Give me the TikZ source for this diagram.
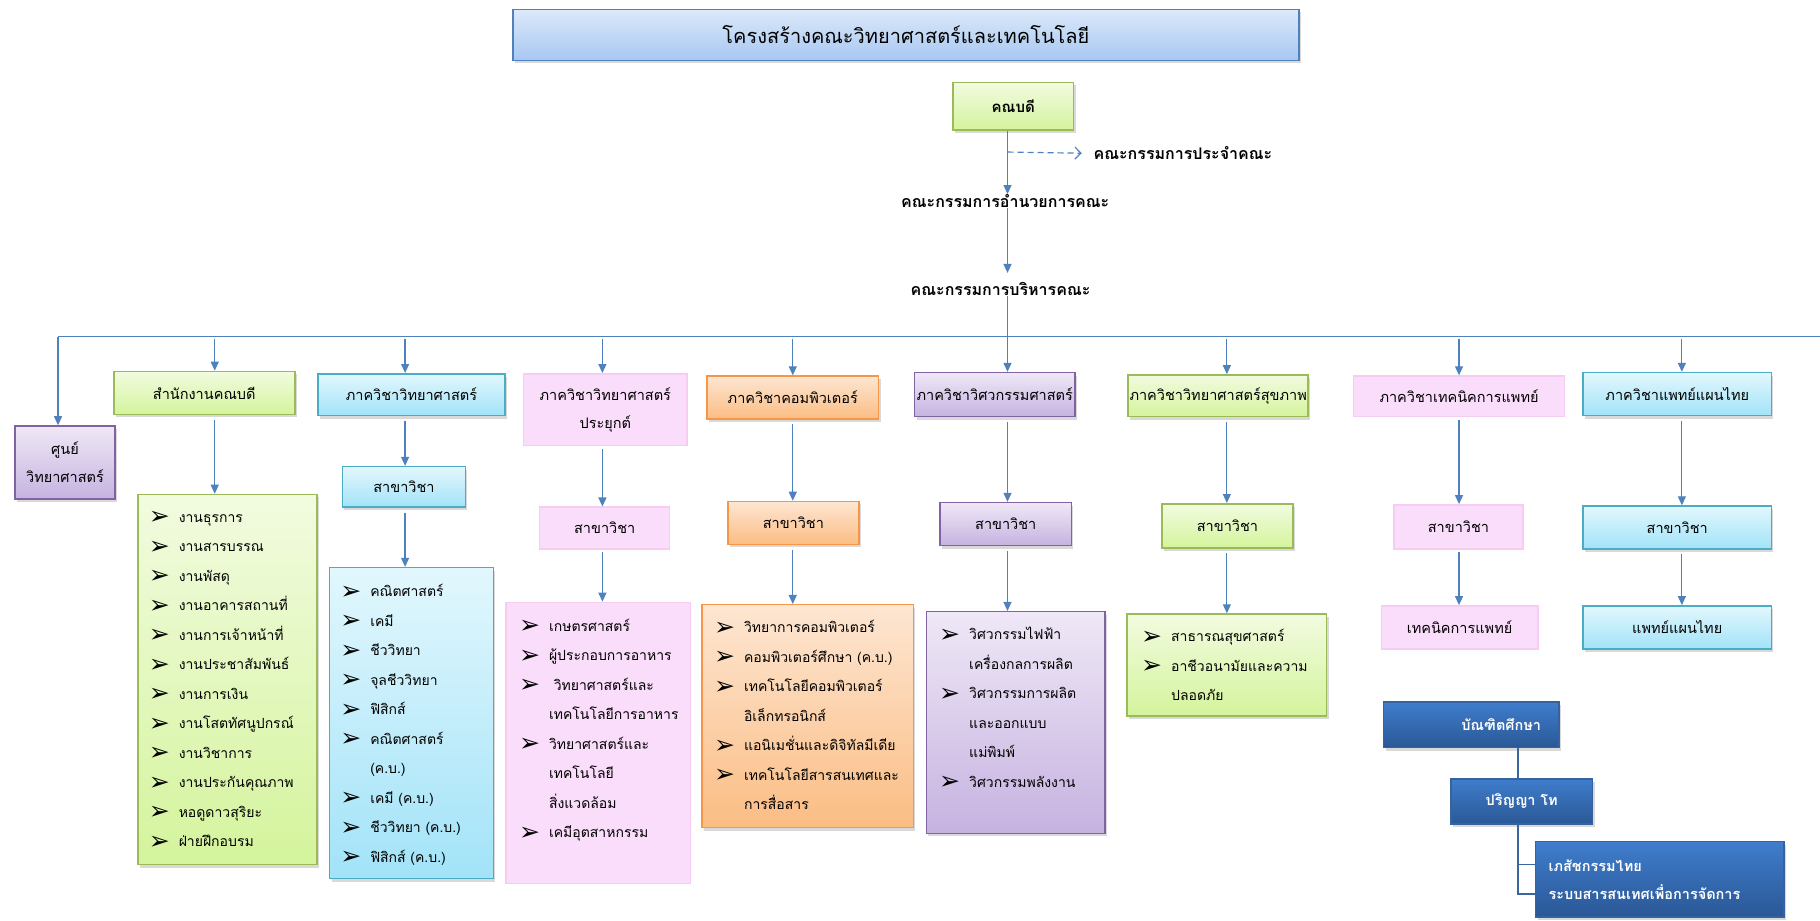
\documentclass[tikz,border=0pt]{standalone}
\usepackage{fontspec}
\setmainfont[Script=Thai]{Loma}
\newfontfamily\symfont{DejaVu Sans}
\usetikzlibrary{shadows,arrows.meta,calc}
\definecolor{arrB}{HTML}{4F81BD}
\definecolor{tTop}{HTML}{DCE9FA}\definecolor{tBot}{HTML}{A7C7F2}
\definecolor{gTop}{HTML}{F2FBE0}\definecolor{gBot}{HTML}{D4F49C}\definecolor{gBrd}{HTML}{9BBB59}
\definecolor{cTop}{HTML}{E2F7FD}\definecolor{cBot}{HTML}{A2E3F8}\definecolor{cBrd}{HTML}{4BACC6}
\definecolor{pFill}{HTML}{FADDFA}\definecolor{pBrd}{HTML}{F6CCF3}
\definecolor{oTop}{HTML}{FDE6D2}\definecolor{oBot}{HTML}{FBBD84}\definecolor{oBrd}{HTML}{F79646}
\definecolor{uTop}{HTML}{EFE8F7}\definecolor{uBot}{HTML}{C6B2E0}\definecolor{uBrd}{HTML}{8064A2}
\definecolor{dTop}{HTML}{3F7DCC}\definecolor{dBot}{HTML}{2A5896}\definecolor{dBrd}{HTML}{3463A0}
\definecolor{dLine}{HTML}{3A65A0}
\newcommand\mybox[7]{\node[#1, minimum width={(#5-#3)*1.1607pt}, minimum height={(#6-#4)*1.1607pt}] (#2) at ({(#3+#5)/2},{(#4+#6)/2}) {#7};}
\newcommand\bul{{\symfont\fontsize{25}{25}\selectfont\raisebox{-2.5pt}{\char"27A2}}}
\newcommand\lst[1]{{\fontsize{14}{29.5}\selectfont\begin{tabular}[t]{@{}p{30pt}@{}l@{}}#1\end{tabular}}}
\begin{document}
\begin{tikzpicture}[x={(1.1607pt,0)},y={(0,-1.1607pt)},
  shd/.style={drop shadow={shadow xshift=2pt,shadow yshift=-3pt,opacity=0.3}},
  bx/.style={rectangle,line width=1.5pt,inner sep=0pt,align=center,font=\fontsize{14.5}{28}\selectfont},
  titlebox/.style={bx,shd,draw=arrB,top color=tTop,bottom color=tBot,font=\fontsize{20}{24}\selectfont},
  gbox/.style={bx,shd,draw=gBrd,top color=gTop,bottom color=gBot},
  cbox/.style={bx,shd,draw=cBrd,top color=cTop,bottom color=cBot},
  pbox/.style={bx,draw=pBrd,fill=pFill},
  obox/.style={bx,shd,draw=oBrd,top color=oTop,bottom color=oBot},
  ubox/.style={bx,shd,draw=uBrd,top color=uTop,bottom color=uBot},
  dbox/.style={bx,shd,draw=dBrd,top color=dTop,bottom color=dBot,text=white,font=\bfseries\fontsize{14.5}{28}\selectfont},
  ln/.style={draw=arrB,line width=1.2pt},
  arr/.style={ln,-{Triangle[length=9pt,width=8pt]}},
  txt/.style={inner sep=0pt,font=\bfseries\fontsize{16}{20}\selectfont},
  lsttxt/.style={anchor=base west,inner sep=0pt}]
\useasboundingbox (0,0) rectangle (1568,793);
% top
\mybox{titlebox}{title}{442}{8}{1119}{52}{โครงสร้างคณะวิทยาศาสตร์และเทคโนโลยี}
\mybox{gbox,font=\bfseries\fontsize{15}{20}\selectfont}{dean}{821}{71}{925}{112}{คณบดี}
\node[txt,anchor=west] (standing) at (942,132) {คณะกรรมการประจำคณะ};
\node[txt] (steer) at (866,173) {คณะกรรมการอำนวยการคณะ};
\node[txt] (exec) at (862,249) {คณะกรรมการบริหารคณะ};
\coordinate (spine) at (868,0);
\coordinate (dash0) at (868,131);
\draw[arr] (dean.south -| spine) -- (steer.north -| spine);
\draw[ln,dash pattern=on 6pt off 4pt,-{Straight Barb[length=6pt,width=12pt]}] (dash0) -- ($(standing.west)+(-10,0)$);
\draw[arr] (steer.south -| spine) -- ($(exec.north -| spine)+(0,-8)$);
% level 1 boxes
\mybox{ubox}{center}{13}{367}{99}{430}{ศูนย์\\วิทยาศาสตร์}
\mybox{gbox}{office}{98}{320}{254}{357}{สำนักงานคณบดี}
\mybox{cbox}{sci}{274}{322}{435}{358}{ภาควิชาวิทยาศาสตร์}
\mybox{pbox}{app}{451}{322}{592}{384}{ภาควิชาวิทยาศาสตร์\\ประยุกต์}
\mybox{obox}{comp}{609}{324}{757}{361}{ภาควิชาคอมพิวเตอร์}
\mybox{ubox}{eng}{788}{321}{926}{359}{ภาควิชาวิศวกรรมศาสตร์}
\mybox{gbox}{hlth}{972}{323}{1127}{359}{ภาควิชาวิทยาศาสตร์สุขภาพ}
\mybox{pbox}{mt}{1166}{324}{1348}{359}{ภาควิชาเทคนิคการแพทย์}
\mybox{cbox}{ttm}{1364}{321}{1526}{358}{ภาควิชาแพทย์แผนไทย}
% bus
\coordinate (busL) at (50,290);
\coordinate (busR) at (1568,290);
\draw[ln] (busL) -- (busR);
\draw[arr] (busL) -- (center.north -| busL);
\draw[arr] (exec.south -| spine) -- (eng.north -| spine);
\coordinate (c1) at (185,292);
\coordinate (c2) at (349,292);
\coordinate (c3) at (519,292);
\coordinate (c4) at (683,292);
\coordinate (c6) at (1057,292);
\coordinate (c7) at (1257,292);
\coordinate (c8) at (1449,292);
\draw[arr] (c1) -- (office.north -| c1);
\draw[arr] (c2) -- (sci.north -| c2);
\draw[arr] (c3) -- (app.north -| c3);
\draw[arr] (c4) -- (comp.north -| c4);
\draw[arr] (c6) -- (hlth.north -| c6);
\draw[arr] (c7) -- (mt.north -| c7);
\draw[arr] (c8) -- (ttm.north -| c8);
% level 2
\mybox{cbox}{scis}{295}{402}{401}{437}{สาขาวิชา}
\mybox{pbox}{apps}{465}{437}{577}{473}{สาขาวิชา}
\mybox{obox}{comps}{627}{432}{740}{469}{สาขาวิชา}
\mybox{ubox}{engs}{810}{433}{923}{470}{สาขาวิชา}
\mybox{gbox}{hlths}{1001}{434}{1114}{472}{สาขาวิชา}
\mybox{pbox}{mts}{1201}{435}{1312}{473}{สาขาวิชา}
\mybox{cbox}{ttms}{1364}{436}{1526}{473}{สาขาวิชา}
% lists
\mybox{gbox}{offl}{119}{426}{273}{745}{}
\mybox{cbox}{scil}{284}{489}{425}{757}{}
\mybox{pbox}{appl}{436}{519}{595}{761}{}
\mybox{obox}{compl}{605}{521}{787}{713}{}
\mybox{ubox}{engl}{798}{527}{952}{718}{}
\mybox{gbox}{hlthl}{971}{529}{1143}{617}{}
\mybox{pbox}{mtl}{1190}{522}{1325}{559}{เทคนิคการแพทย์}
\mybox{cbox}{ttml}{1364}{522}{1526}{559}{แพทย์แผนไทย}
\draw[arr] ($(office.south -| c1)+(0,4)$) -- (offl.north -| c1);
\draw[arr] ($(sci.south -| c2)+(0,4)$) -- (scis.north -| c2);
\draw[arr] ($(scis.south -| c2)+(0,4)$) -- (scil.north -| c2);
\draw[arr] ($(app.south -| c3)+(0,2)$) -- (apps.north -| c3);
\draw[arr] ($(apps.south -| c3)+(0,2)$) -- (appl.north -| c3);
\draw[arr] ($(comp.south -| c4)+(0,4)$) -- (comps.north -| c4);
\draw[arr] ($(comps.south -| c4)+(0,4)$) -- (compl.north -| c4);
\draw[arr] ($(eng.south -| spine)+(0,4)$) -- (engs.north -| spine);
\draw[arr] ($(engs.south -| spine)+(0,4)$) -- (engl.north -| spine);
\draw[arr] ($(hlth.south -| c6)+(0,4)$) -- (hlths.north -| c6);
\draw[arr] ($(hlths.south -| c6)+(0,4)$) -- (hlthl.north -| c6);
\draw[arr] ($(mt.south -| c7)+(0,2)$) -- (mts.north -| c7);
\draw[arr] ($(mts.south -| c7)+(0,2)$) -- (mtl.north -| c7);
\draw[arr] ($(ttm.south -| c8)+(0,4)$) -- (ttms.north -| c8);
\draw[arr] ($(ttms.south -| c8)+(0,4)$) -- (ttml.north -| c8);
% list texts
\node[lsttxt] (offt) at (128,450) {\lst{\bul & งานธุรการ\\ \bul & งานสารบรรณ\\ \bul & งานพัสดุ\\ \bul & งานอาคารสถานที่\\ \bul & งานการเจ้าหน้าที่\\ \bul & งานประชาสัมพันธ์\\ \bul & งานการเงิน\\ \bul & งานโสตทัศนูปกรณ์\\ \bul & งานวิชาการ\\ \bul & งานประกันคุณภาพ\\ \bul & หอดูดาวสุริยะ\\ \bul & ฝ่ายฝึกอบรม}};
\node[lsttxt] (scit) at (293,514) {\lst{\bul & คณิตศาสตร์\\ \bul & เคมี\\ \bul & ชีววิทยา\\ \bul & จุลชีววิทยา\\ \bul & ฟิสิกส์\\ \bul & คณิตศาสตร์\\ & (ค.บ.)\\ \bul & เคมี (ค.บ.)\\ \bul & ชีววิทยา (ค.บ.)\\ \bul & ฟิสิกส์ (ค.บ.)}};
\node[lsttxt] (appt) at (447,544) {\lst{\bul & เกษตรศาสตร์\\ \bul & ผู้ประกอบการอาหาร\\ \bul & \ วิทยาศาสตร์และ\\ & เทคโนโลยีการอาหาร\\ \bul & วิทยาศาสตร์และ\\ & เทคโนโลยี\\ & สิ่งแวดล้อม\\ \bul & เคมีอุตสาหกรรม}};
\node[lsttxt] (compt) at (615,545) {\lst{\bul & วิทยาการคอมพิวเตอร์\\ \bul & คอมพิวเตอร์ศึกษา (ค.บ.)\\ \bul & เทคโนโลยีคอมพิวเตอร์\\ & อิเล็กทรอนิกส์\\ \bul & แอนิเมชั่นและดิจิทัลมีเดีย\\ \bul & เทคโนโลยีสารสนเทศและ\\ & การสื่อสาร}};
\node[lsttxt] (engt) at (809,551) {\lst{\bul & วิศวกรรมไฟฟ้า\\ & เครื่องกลการผลิต\\ \bul & วิศวกรรมการผลิต\\ & และออกแบบ\\ & แม่พิมพ์\\ \bul & วิศวกรรมพลังงาน}};
\node[lsttxt] (hltht) at (983,553) {\lst{\bul & สาธารณสุขศาสตร์\\ \bul & อาชีวอนามัยและความ\\ & ปลอดภัย}};
% graduate
\mybox{dbox}{grad}{1192}{605}{1343}{644}{\hspace*{60pt}บัณฑิตศึกษา}
\mybox{dbox}{master}{1250}{671}{1372}{710}{ปริญญา โท}
\mybox{dbox}{prog}{1323}{725}{1537}{790}{}
\node[anchor=west,inner sep=0pt,text=white,font=\bfseries\fontsize{14.5}{28}\selectfont,align=left] (progt) at (1334,757.5) {เภสัชกรรมไทย\\ระบบสารสนเทศเพื่อการจัดการ};
\coordinate (gx) at (1308,0);
\coordinate (t1) at (1323,745);
\coordinate (t2) at (1323,770);
\draw[draw=dLine,line width=1.5pt] (grad.south -| gx) -- (master.north -| gx);
\draw[draw=dLine,line width=1.5pt] (master.south -| gx) -- (t2 -| gx) -- (t2);
\draw[draw=dLine,line width=1.5pt] (t1 -| gx) -- (t1);
\end{tikzpicture}
\end{document}
